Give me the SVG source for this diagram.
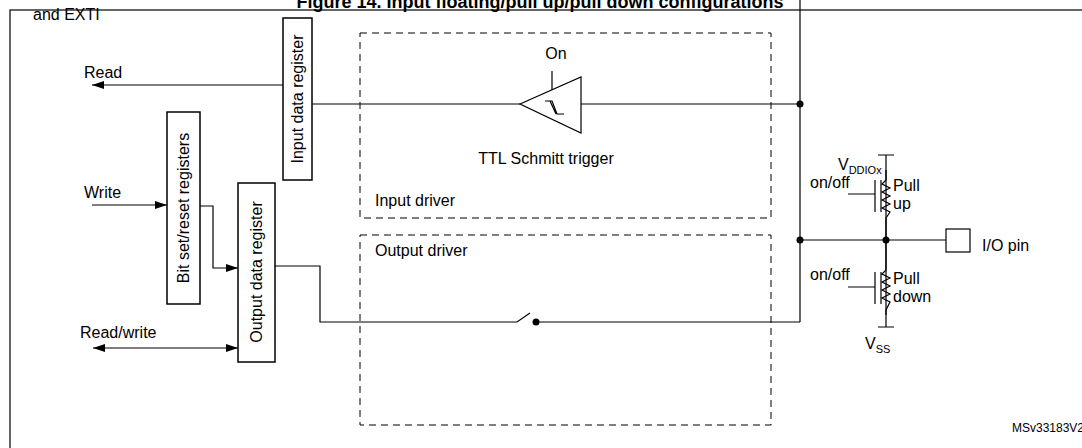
<svg xmlns="http://www.w3.org/2000/svg" width="1082" height="448" viewBox="0 0 1082 448">
<style>
text{font-family:"Liberation Sans",Arial,sans-serif;font-size:16px;fill:#000}
.l{fill:none;stroke:#000;stroke-width:1.2}
.b{fill:#fff;stroke:#000;stroke-width:1.5}
.d{fill:none;stroke:#000;stroke-width:1;stroke-dasharray:7,5}
</style>
<defs><marker id="a" markerWidth="12" markerHeight="8" refX="12" refY="4" orient="auto-start-reverse" markerUnits="userSpaceOnUse"><path d="M0,0L12,4L0,8z"/></marker></defs>
<rect width="1082" height="448" fill="#fff"/>
<text x="540" y="8" text-anchor="middle" style="font-weight:bold;font-size:18px">Figure 14. Input floating/pull up/pull down configurations</text>
<rect x="10" y="10" width="1090" height="460" class="l" stroke-width="1.5"/>
<text x="33" y="20">and EXTI</text>
<g id="connectors">
<path class="l" d="M283,85H92" marker-end="url(#a)"/>
<path class="l" d="M312,104H520M581,104H800M552,71V90M800,0V322"/>
<path class="l" d="M92,205H167" marker-end="url(#a)"/>
<path class="l" d="M200,206H213V268H238" marker-end="url(#a)"/>
<path class="l" d="M275,266H320V322H517L530,313M536,322H800"/>
<path class="l" d="M93,348H238" marker-start="url(#a)" marker-end="url(#a)"/>
<path class="l" d="M800,240H946M886,170V240V315"/>
<circle cx="800" cy="104" r="3.5"/><circle cx="800" cy="240" r="3.5"/><circle cx="886" cy="240" r="3.5"/><circle cx="536" cy="322" r="3.5"/>
</g>
<g id="input-driver"><rect x="360" y="33" width="411" height="185" class="d"/><text x="375" y="206">Input driver</text></g>
<g id="output-driver"><rect x="360" y="235" width="411" height="190" class="d"/><text x="375" y="256">Output driver</text></g>
<g id="input-data-register"><rect x="283" y="18" width="29" height="162" class="b"/><text transform="translate(303,99) rotate(-90)" text-anchor="middle">Input data register</text></g>
<g id="bit-set-reset"><rect x="167" y="112" width="33" height="192" class="b"/><text transform="translate(189,208) rotate(-90)" text-anchor="middle">Bit set/reset registers</text></g>
<g id="output-data-register"><rect x="238" y="183" width="37" height="179" class="b"/><text transform="translate(262,272) rotate(-90)" text-anchor="middle">Output data register</text></g>
<g id="schmitt">
<path class="b" d="M520,104L581,77V133Z" style="stroke-width:1.2"/>
<path class="l" d="M545,101H552L557,114H564M550,101L556,114" stroke-width="1"/>
<text x="556" y="59" text-anchor="middle">On</text>
<text x="546" y="164" text-anchor="middle">TTL Schmitt trigger</text>
</g>
<text x="84" y="78">Read</text><text x="84" y="198">Write</text><text x="80" y="338">Read/write</text>
<g id="pull-up">
<path class="l" d="M878,155H894M886,155V180M886,218V240M848,194H875M875,180V212M881,180V212"/>
<path class="l" d="M886,180L882,184L890,188L882,192L890,196L882,200L890,204L882,208L890,212L886,218" stroke-width="1"/>
<text x="838" y="170">V<tspan font-size="11" dy="4">DDIOx</tspan></text>
<text x="810" y="188">on/off</text><text x="893" y="191">Pull</text><text x="893" y="209">up</text>
</g>
<g id="pull-down">
<path class="l" d="M878,327H894M886,315V327M886,240V270M848,287H875M875,272V304M881,272V304"/>
<path class="l" d="M886,270L882,274L890,278L882,282L890,286L882,290L890,294L882,298L890,302L886,310V315" stroke-width="1"/>
<text x="865" y="349">V<tspan font-size="11" dy="4">SS</tspan></text>
<text x="810" y="280">on/off</text><text x="893" y="284">Pull</text><text x="893" y="302">down</text>
</g>
<g id="io-pin"><rect x="946" y="229" width="24" height="23" class="b" style="stroke-width:1.2"/><text x="982" y="251">I/O pin</text></g>
<text x="1012" y="432" style="font-size:12px">MSv33183V2</text>
</svg>
